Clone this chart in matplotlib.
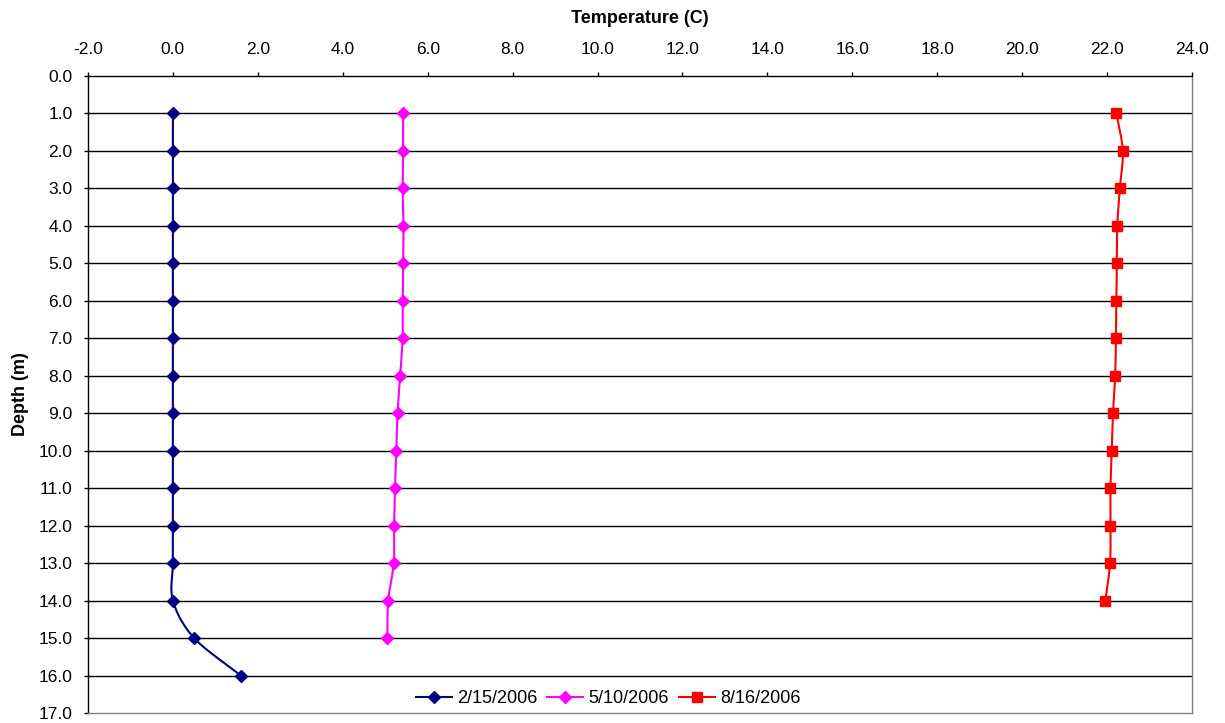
import numpy as np
import matplotlib
matplotlib.use("Agg")
import matplotlib.pyplot as plt

plt.rcParams['font.family'] = ['Liberation Sans', 'DejaVu Sans']

depth_feb = [1, 2, 3, 4, 5, 6, 7, 8, 9, 10, 11, 12, 13, 14, 15, 16]
temp_feb = [0.0, 0.0, 0.0, 0.0, 0.0, 0.0, 0.0, 0.0, 0.0, 0.0, 0.0, 0.0, 0.0, 0.0, 0.5, 1.6]

depth_may = [1, 2, 3, 4, 5, 6, 7, 8, 9, 10, 11, 12, 13, 14, 15]
temp_may = [5.42, 5.42, 5.41, 5.43, 5.42, 5.41, 5.41, 5.35, 5.29, 5.26, 5.23, 5.21, 5.20, 5.07, 5.05]

depth_aug = [1, 2, 3, 4, 5, 6, 7, 8, 9, 10, 11, 12, 13, 14]
temp_aug = [22.22, 22.37, 22.30, 22.24, 22.23, 22.22, 22.21, 22.19, 22.14, 22.11, 22.08, 22.08, 22.07, 21.96]

labels = ['2/15/2006', '5/10/2006', '8/16/2006']
colors = ['#000080', '#FF00FF', '#FF0000']
markers = ['D', 'D', 's']

x_ticks = np.arange(-2, 24.1, 2)
y_ticks = np.arange(0, 17.1, 1)


def smooth(x, y, n=20):
    x = np.asarray(x, float)
    y = np.asarray(y, float)
    px = np.concatenate([[2 * x[0] - x[1]], x, [2 * x[-1] - x[-2]]])
    py = np.concatenate([[2 * y[0] - y[1]], y, [2 * y[-1] - y[-2]]])
    xs, ys = [], []
    t = np.linspace(0, 1, n, endpoint=False)
    for i in range(1, len(px) - 2):
        for arr, out in ((px, xs), (py, ys)):
            p0, p1, p2, p3 = arr[i - 1], arr[i], arr[i + 1], arr[i + 2]
            out.extend(0.5 * ((2 * p1) + (-p0 + p2) * t +
                              (2 * p0 - 5 * p1 + 4 * p2 - p3) * t ** 2 +
                              (-p0 + 3 * p1 - 3 * p2 + p3) * t ** 3))
    xs.append(x[-1])
    ys.append(y[-1])
    return xs, ys


fig = plt.figure(figsize=(12.25, 7.23), dpi=100)
ax = fig.add_axes([88 / 1225, 1 - 713 / 723, (1192 - 88) / 1225, (713 - 76) / 723])

series = [(temp_feb, depth_feb), (temp_may, depth_may), (temp_aug, depth_aug)]
for (tx, dy), lab, c, m in zip(series, labels, colors, markers):
    ms = 6.5 if m == 'D' else 7
    sx, sy = smooth(tx, dy)
    ax.plot(sx, sy, color=c, lw=1.5, zorder=3)
    ax.plot(tx, dy, linestyle='none', marker=m, color=c, markersize=ms, zorder=4)
    ax.plot([], [], color=c, lw=1.5, marker=m, markersize=ms, label=lab)

ax.set_xlim(-2, 24)
ax.set_ylim(17, 0)
ax.set_xticks(x_ticks)
ax.set_xticklabels([f'{v:.1f}' for v in x_ticks])
ax.set_yticks(y_ticks)
ax.set_yticklabels([f'{v:.1f}' for v in y_ticks])
ax.xaxis.tick_top()
ax.xaxis.set_label_position('top')
ax.tick_params(axis='both', direction='out', length=3, width=1, labelsize=12.5, color='black')
ax.tick_params(axis='x', pad=10.5)
ax.tick_params(axis='y', pad=8)

for yv in y_ticks[1:-1]:
    ax.axhline(yv, color='black', lw=1, zorder=1)

ax.spines['left'].set_color('black')
ax.spines['top'].set_color('black')
ax.spines['right'].set_color('#808080')
ax.spines['bottom'].set_color('#808080')
for s in ax.spines.values():
    s.set_linewidth(1)

ax.set_xlabel('Temperature (C)', fontsize=13, fontweight='bold', labelpad=14)
ax.set_ylabel('Depth (m)', fontsize=13, fontweight='bold', labelpad=7)

leg = ax.legend(loc='lower center', bbox_to_anchor=(0.471, -0.008), ncol=3, frameon=False,
                fontsize=13, handlelength=2.0, columnspacing=0.55, handletextpad=0.28,
                borderaxespad=0.2)

fig.savefig('out.png', dpi=100, facecolor='white')
